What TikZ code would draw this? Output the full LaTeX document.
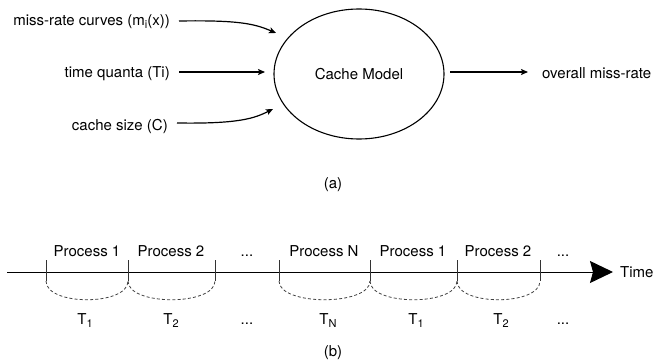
\documentclass[tikz,border=0pt]{standalone}
\usepackage{fontspec}
\setmainfont{TeX Gyre Heros}
\usepackage{tikz}
\usetikzlibrary{arrows.meta,shapes.geometric,positioning}

\newcommand{\gapdots}{...}
\newcommand{\lowsub}[1]{\raisebox{-0.45ex}{\fontsize{11}{13}\selectfont #1}}

\tikzset{
	lbl/.style = {inner sep = 0pt, font = \fontsize{15}{18}\selectfont},
	flow/.style = {line width = 1.2pt, -{Stealth[length = 7pt, width = 6pt, inset = 1.5pt]}},
	tick/.style = {line width = 0.8pt, color = black!80},
	span/.style = {line width = 0.8pt, dash pattern = on 3pt off 2.2pt, color = black!75}
}

\begin{document}
\begin{tikzpicture}[x = 1pt, y = -1pt]
\useasboundingbox (0,0) rectangle (667,364);

% (a) inputs -> cache model -> output
\node [lbl, draw, ellipse, line width = 1.1pt, minimum width = 170pt, minimum height = 130pt] (model) at (359,74) {Cache Model};
\node [lbl, anchor = base east] (curves) at (170,25) {miss-rate curves (m\lowsub{i}(x))};
\node [lbl, anchor = base east] (quanta) at (170,77) {time quanta (Ti)};
\node [lbl, anchor = base east] (size) at (168,130) {cache size (C)};
\node [lbl, anchor = base west] (missrate) at (542,78) {overall miss-rate};
\coordinate (in1) at (276,33);
\coordinate (in2) at (265,72);
\coordinate (in3) at (273,109);
\coordinate (out) at (528,72);
\draw [flow] (179,21) .. controls (240,20) and (255,24) .. (in1);
\draw [flow] (179,72) -- (in2);
\draw [flow] (177,123) .. controls (240,124) and (255,118) .. (in3);
\draw [flow] (450,72) -- (out);
\node [lbl] (capa) at (333,185) {(a)};

% (b) time line with the quanta
\coordinate (start) at (7,272);
\coordinate (end) at (613,272);
\draw [line width = 1pt, -{Stealth[length = 23pt, width = 22pt, inset = 3pt]}] (start) -- (end);
\node [lbl, anchor = base west] (time) at (620,277) {Time};
\foreach \x [count = \i] in {46,128,215,279,370,457,540} {
	\draw [tick] (\x,260) -- (\x,281) coordinate (t\i);
}
\foreach \a/\b in {1/2,2/3,4/5,5/6,6/7}
\draw [span] (t\a) .. controls +(0,25) and +(0,25) .. (t\b);
\foreach \x/\txt in {87/Process 1, 171/Process 2, 247/\gapdots, 324/Process N, 413/Process 1, 498/Process 2, 563/\gapdots}
\node [lbl, anchor = base] at (\x,256) {\txt};
\foreach \x/\txt in {85/T\lowsub{1}, 171/T\lowsub{2}, 247/\gapdots, 328/T\lowsub{N}, 416/T\lowsub{1}, 501/T\lowsub{2}, 563/\gapdots}
\node [lbl, anchor = base] at (\x,324) {\txt};
\node [lbl] (capb) at (333,353) {(b)};
\end{tikzpicture}
\end{document}
